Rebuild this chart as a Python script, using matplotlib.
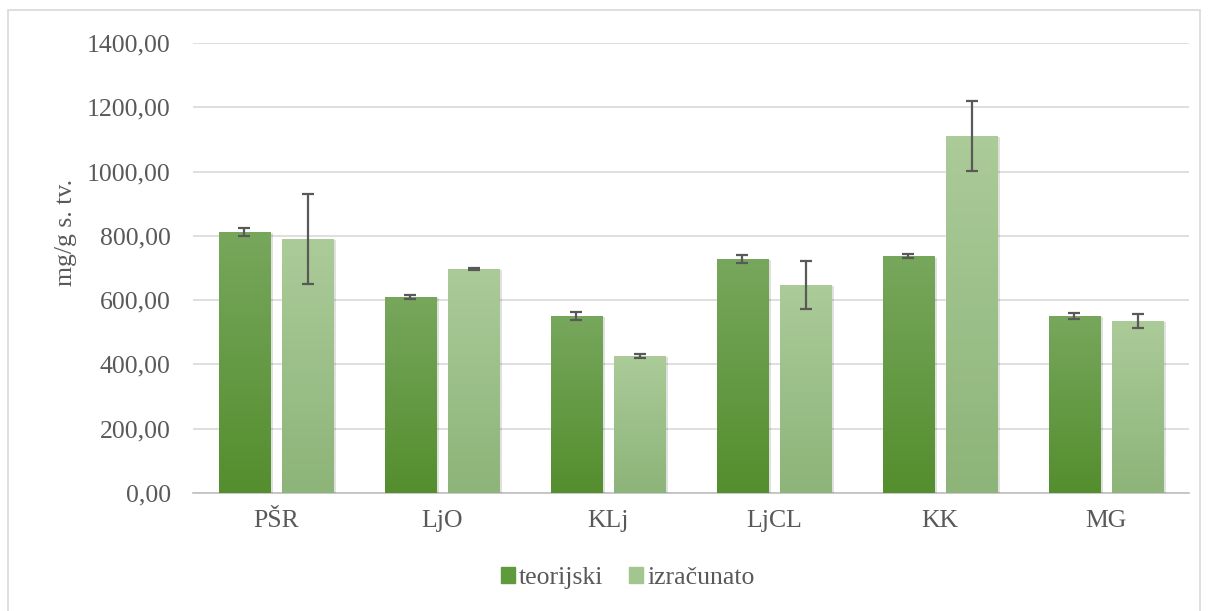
import numpy as np
import matplotlib
matplotlib.use("Agg")
import matplotlib.pyplot as plt
from matplotlib.patches import Rectangle, Patch
from matplotlib.colors import LinearSegmentedColormap
from matplotlib.ticker import FuncFormatter
import matplotlib.patheffects as pe

plt.rcParams['font.family'] = ['Liberation Serif', 'DejaVu Serif']

categories = ['PŠR', 'LjO', 'KLj', 'LjCL', 'KK', 'MG']
teorijski = [812, 610, 551, 728, 737, 551]
teorijski_err = [12, 6, 12, 12, 7, 10]
izracunato = [790, 697, 426, 647, 1111, 535]
izracunato_err = [139, 3, 5, 76, 108, 23]

text_col = '#595959'

fig = plt.figure(figsize=(12.08, 6.11), dpi=100)
ax = fig.add_axes([0.1598, 0.1931, 0.8245, 0.7365])

# okvir grafikona
fig.patches.append(Rectangle((8 / 1208, -0.01), 1192 / 1208, 1 - 10 / 611 + 0.01,
                             transform=fig.transFigure, fill=False,
                             edgecolor='#d9d9d9', lw=1.2))

x = np.arange(len(categories))
w = 0.313
off = 0.19

series = [
    (teorijski, teorijski_err, -off, '#5f9a3c', ['#77a75c', '#548e2e'], 'teorijski'),
    (izracunato, izracunato_err, off, '#9fc38b', ['#abcb99', '#8db479'], 'izračunato'),
]

for vals, errs, dx, col, grad, lab in series:
    bars = ax.bar(x + dx, vals, w, color=col, zorder=3,
                  path_effects=[pe.SimplePatchShadow(offset=(2, -1), shadow_rgbFace='black', alpha=0.12), pe.Normal()])
    cmap = LinearSegmentedColormap.from_list('g', grad[::-1])
    # gradijent unutar stupca
    for b in bars:
        bx, by = b.get_x(), b.get_y()
        bw, bh = b.get_width(), b.get_height()
        im = ax.imshow(np.linspace(0, 1, 100).reshape(-1, 1), cmap=cmap, origin='lower',
                       extent=[bx, bx + bw, by, by + bh], aspect='auto', zorder=3.5)
        im.set_clip_path(b)
    ax.errorbar(x + dx, vals, yerr=errs, fmt='none', ecolor='#595959',
                elinewidth=1.6, capsize=4.5, capthick=1.6, zorder=5)

ax.set_xlim(-0.5, len(categories) - 0.5)
ax.set_ylim(0, 1400)
ax.set_yticks(np.arange(0, 1401, 200))
ax.yaxis.set_major_formatter(FuncFormatter(lambda v, p: f'{v:.2f}'.replace('.', ',')))
ax.set_xticks(x)
ax.set_xticklabels(categories)
ax.tick_params(axis='both', length=0, labelsize=18.5, colors=text_col)
ax.tick_params(axis='y', pad=16)
ax.tick_params(axis='x', pad=12)

ax.grid(axis='y', color='#d9d9d9', lw=1.2, zorder=0)
ax.set_axisbelow(True)
for s in ['top', 'right', 'left']:
    ax.spines[s].set_visible(False)
ax.spines['bottom'].set_color('#bfbfbf')
ax.spines['bottom'].set_linewidth(1.2)

ax.set_ylabel('mg/g s. tv.', fontsize=18.5, color=text_col)
ax.yaxis.set_label_coords(-0.117, 0.58)

handles = [Patch(color='#5f9a3c'), Patch(color='#a3c690')]
leg = fig.legend(handles, ['teorijski', 'izračunato'], loc='center',
                 bbox_to_anchor=(628 / 1208, 1 - 578 / 611), ncol=2, frameon=False,
                 fontsize=18.5, handlelength=0.55, handleheight=0.55,
                 handletextpad=0.15, columnspacing=1.0)
for t in leg.get_texts():
    t.set_color(text_col)

fig.savefig('out.png', dpi=100)
